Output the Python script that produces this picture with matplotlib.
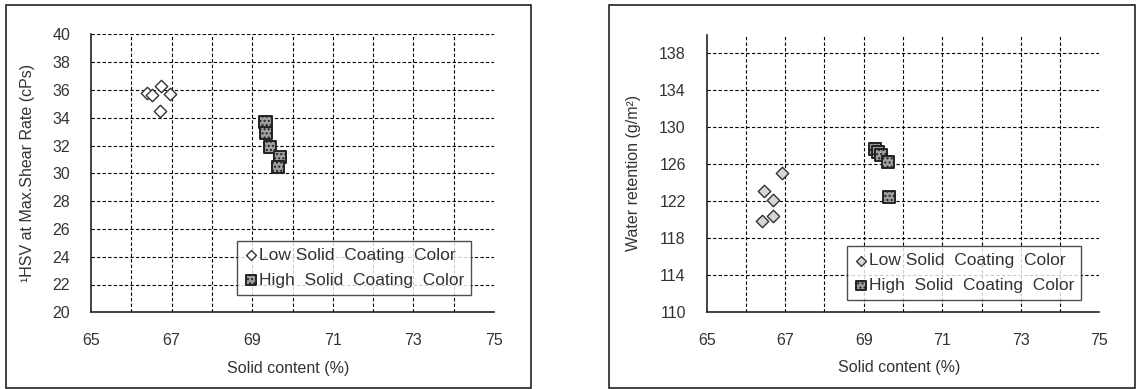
import matplotlib
matplotlib.use('Agg')
import matplotlib.pyplot as plt
from matplotlib.patches import Rectangle

# left chart: high shear viscosity
low_x_hsv = [66.40, 66.51, 66.73, 66.96, 66.71]
low_y_hsv = [35.75, 35.63, 36.30, 35.70, 34.48]
high_x_hsv = [69.33, 69.35, 69.44, 69.69, 69.65]
high_y_hsv = [33.71, 32.92, 31.91, 31.15, 30.43]

# right chart: water retention
low_x_wr = [66.91, 66.47, 66.70, 66.68, 66.40]
low_y_wr = [125.0, 123.1, 122.1, 120.4, 119.8]
high_x_wr = [69.28, 69.36, 69.43, 69.62, 69.65]
high_y_wr = [127.6, 127.3, 127.0, 126.2, 122.4]

xticks = [65, 67, 69, 71, 73, 75]
xgrid_minor = [66, 68, 70, 72, 74]
yticks_hsv = list(range(20, 41, 2))
yticks_wr = list(range(110, 139, 4))

LOW_LABEL = 'Low Solid  Coating  Color'
HIGH_LABEL = 'High  Solid  Coating  Color'

plt.rcParams['font.family'] = ['Liberation Sans', 'DejaVu Sans']
TXT = '#333333'

W, H = 1140, 389
fig = plt.figure(figsize=(W / 100, H / 100), dpi=100)

# outer frames round each panel
for x0, x1 in [(6, 531), (609, 1135)]:
    fig.patches.append(Rectangle((x0 / W, 1 - 388 / H), (x1 - x0) / W, 383 / H,
                                 transform=fig.transFigure, fill=False,
                                 edgecolor='#222222', linewidth=1.2))


def panel(rect, lx, ly, hx, hy, yticks, ylim, ylabel, ylab_x, leg_anchor, low_face):
    ax = fig.add_axes(rect)
    ax.scatter(lx, ly, marker='D', s=40, facecolor=low_face, edgecolor='#333333',
               linewidth=1.0, zorder=3, label=LOW_LABEL)
    ax.scatter(hx, hy, marker='s', s=75, facecolor='#a0a0a0', edgecolor='#222222',
               linewidth=1.4, hatch='....', zorder=3, label=HIGH_LABEL)
    ax.set_xlim(65, 75)
    ax.set_ylim(*ylim)
    ax.set_xticks(xticks)
    ax.set_xticks(xgrid_minor, minor=True)
    ax.set_yticks(yticks)
    ax.tick_params(which='both', length=0, labelsize=11.5, labelcolor=TXT)
    ax.tick_params(axis='x', pad=15)
    ax.tick_params(axis='y', pad=15)
    gkw = dict(color='black', linestyle=(0, (3, 2)), linewidth=0.8)
    ax.grid(True, which='both', axis='x', **gkw)
    ax.grid(True, which='major', axis='y', **gkw)
    xt = ax.xaxis.get_major_ticks()
    xt[0].gridline.set_visible(False)
    xt[-1].gridline.set_visible(False)
    ax.yaxis.get_major_ticks()[0].gridline.set_visible(False)
    for s in ['top', 'right']:
        ax.spines[s].set_visible(False)
    for s in ['left', 'bottom']:
        ax.spines[s].set_color('#222222')
        ax.spines[s].set_linewidth(1.2)
    ax.set_xlabel('Solid content (%)', fontsize=11.5, color=TXT)
    ax.xaxis.set_label_coords(0.49, -0.175)
    ax.set_ylabel(ylabel, fontsize=11.5, color=TXT)
    ax.yaxis.set_label_coords(ylab_x, 0.5)
    leg = ax.legend(loc='lower right', bbox_to_anchor=leg_anchor, borderaxespad=0,
                    fontsize=12.5, frameon=True, fancybox=False, handletextpad=0.05,
                    handlelength=0.8, labelspacing=0.55, borderpad=0.4, markerscale=0.8)
    leg.get_frame().set_edgecolor('#222222')
    leg.get_frame().set_linewidth(1.0)
    for t in leg.get_texts():
        t.set_color(TXT)
    return ax


panel([91 / W, 1 - 312.3 / H, 403 / W, 278 / H], low_x_hsv, low_y_hsv, high_x_hsv, high_y_hsv,
      yticks_hsv, (20, 40), '\u00b9HSV at Max.Shear Rate (cPs)', -0.14, (0.943, 0.064), 'white')
panel([706.7 / W, 1 - 311.7 / H, 392.6 / W, 277 / H], low_x_wr, low_y_wr, high_x_wr, high_y_wr,
      yticks_wr, (110, 140), 'Water retention (g/m\u00b2)', -0.167, (0.954, 0.042), '#d6d6d6')

fig.savefig('out.png', dpi=100)
